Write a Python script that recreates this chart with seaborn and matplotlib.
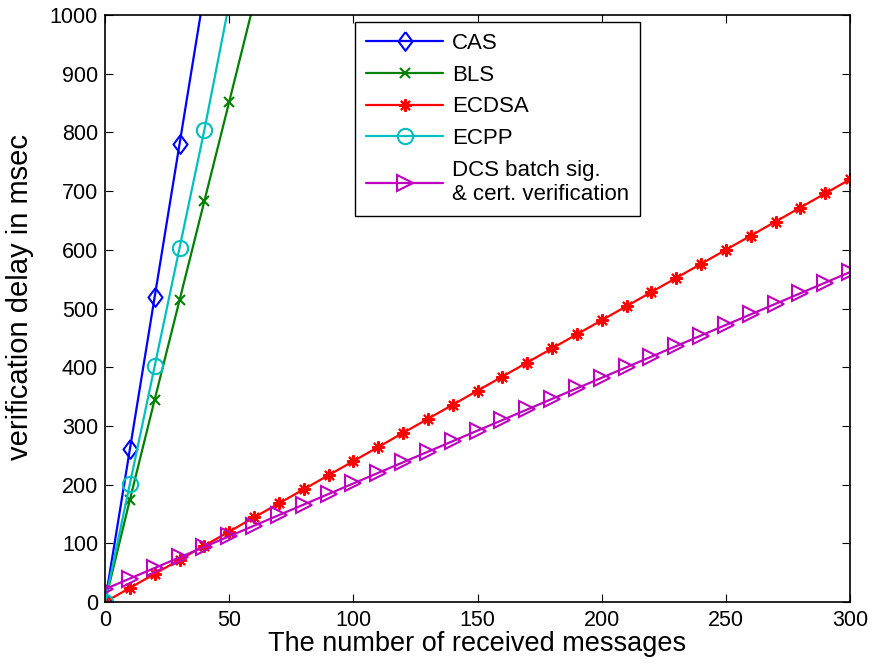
import matplotlib
matplotlib.use('Agg')
import matplotlib.pyplot as plt
import seaborn as sns

# data (messages vs. delay in msec)
x_cas = [0, 10, 20, 30, 40]
cas = [0, 260, 520, 780, 1040]

x_bls = [0, 10, 20, 30, 40, 50, 60]
bls = [0, 174, 345, 514, 683, 852, 1022]

x_ecpp = [0, 10, 20, 30, 40, 50]
ecpp = [0, 201, 402, 603, 804, 1020]

x_all = [0, 10, 20, 30, 40, 50, 60, 70, 80, 90, 100, 110, 120, 130, 140, 150,
         160, 170, 180, 190, 200, 210, 220, 230, 240, 250, 260, 270, 280, 290, 300]
ecdsa = [0, 24, 48, 72, 96, 120, 144, 168, 192, 216, 240, 264, 288, 312, 336, 360,
         384, 408, 432, 456, 480, 504, 528, 552, 576, 600, 624, 648, 672, 696, 720]
dcs = [22, 40, 58, 76, 94, 112, 130, 148, 166, 184, 202, 220, 238, 256, 274, 292,
       310, 328, 346, 364, 382, 400, 418, 436, 454, 472, 490, 508, 526, 544, 562]

sns.set_style('ticks')
plt.rcParams['font.family'] = ['Liberation Sans', 'DejaVu Sans']
plt.rcParams['text.color'] = 'black'
plt.rcParams['axes.labelcolor'] = 'black'
plt.rcParams['xtick.color'] = 'black'
plt.rcParams['ytick.color'] = 'black'
plt.rcParams['axes.edgecolor'] = 'black'

fig = plt.figure(figsize=(8.73, 6.69), dpi=100)
ax = fig.add_axes([0.1203, 0.1001, 0.8534, 0.8775])

# matlab-like diamond: taller than wide
diamond = [(0, 1), (0.75, 0), (0, -1), (-0.75, 0), (0, 1)]

series = [
    (x_cas, cas, '#0000ff', diamond, 13.5, 'CAS'),
    (x_bls, bls, '#008000', 'x', 7, 'BLS'),
    (x_all, ecdsa, '#ff0000', (8, 2, 0), 9, 'ECDSA'),
    (x_ecpp, ecpp, '#00bfbf', 'o', 11, 'ECPP'),
    (x_all, dcs, '#bf00bf', '>', 11.5, 'DCS batch sig.\n& cert. verification'),
]
for xs, ys, c, m, ms, lab in series:
    sns.lineplot(x=xs, y=ys, ax=ax, color=c, marker=m, markersize=ms,
                 mfc='none', mec=c, markeredgewidth=1.5, linewidth=1.6,
                 label=lab)

ax.set_xlim(0, 300)
ax.set_ylim(0, 1000)
ax.set_xticks(range(0, 301, 50))
ax.set_yticks(range(0, 1001, 100))
ax.tick_params(direction='in', top=True, right=True, labelsize=15.5, length=6, width=0.8)
ax.tick_params(axis='x', pad=6)
ax.tick_params(axis='y', pad=5)
for s in ax.spines.values():
    s.set_linewidth(1.2)
    s.set_visible(True)
ax.set_xlabel('The number of received messages', fontsize=19.5, labelpad=0)
ax.set_ylabel('verification delay in msec', fontsize=21)
ax.yaxis.set_label_coords(-0.095, 0.52)

leg = ax.legend(loc='upper left', bbox_to_anchor=(0.3356, 0.988), fontsize=16,
                handlelength=3.46, handletextpad=0.4, borderaxespad=0,
                frameon=True, fancybox=False, edgecolor='black',
                framealpha=1, borderpad=0.5, labelspacing=0.48)
leg.get_frame().set_linewidth(1.0)

fig.savefig('out.png', dpi=100)
